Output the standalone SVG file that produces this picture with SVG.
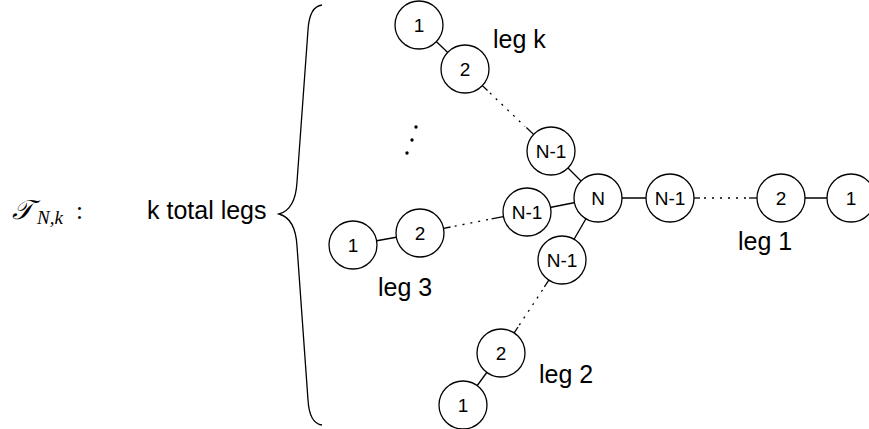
<svg xmlns="http://www.w3.org/2000/svg" width="869" height="429" viewBox="0 0 869 429">
<style>
.n circle{fill:#fff;stroke:#000;stroke-width:1.3}
.n text{font-family:"Liberation Sans",Arial,sans-serif;font-size:19px;text-anchor:middle;fill:#000}
.lbl{font-family:"Liberation Sans",Arial,sans-serif;font-size:25px;fill:#000}
.s{stroke:#000;stroke-width:1.3;fill:none}
.d{stroke:#000;stroke-width:1.3;fill:none;stroke-dasharray:2 6}
</style>
<rect width="869" height="429" fill="#fff"/>
<g id="title">
<text x="12" y="219" font-family="'DejaVu Serif','Liberation Serif',serif" font-size="27" font-style="italic">𝒯</text>
<text x="37" y="224" font-family="'Liberation Serif',serif" font-size="19" font-style="italic">N,k</text>
<text x="76" y="219" font-family="'Liberation Serif',serif" font-size="25">:</text>
</g>
<text class="lbl" x="147" y="219">k total legs</text>
<path id="brace" class="s" d="M322,5 C313,6 309,14 308,30 L297,182 C296,200 290,211 279,214 C290,217 296,228 297,246 L308,400 C309,416 313,424 322,425"/>
<g id="vdots" fill="#000">
<circle cx="416" cy="127" r="1.7"/>
<circle cx="412" cy="140" r="1.7"/>
<circle cx="407" cy="153" r="1.7"/>
</g>
<g id="connectors">
<line class="s" x1="419" y1="25" x2="465" y2="69"/>
<line class="s" x1="551" y1="151" x2="598" y2="198"/>
<line class="s" x1="598" y1="198" x2="527" y2="212"/>
<line class="s" x1="598" y1="198" x2="562" y2="260"/>
<line class="s" x1="598" y1="198" x2="670" y2="198"/>
<line class="s" x1="420" y1="233" x2="353" y2="245"/>
<line class="s" x1="501" y1="353" x2="463" y2="405"/>
<line class="s" x1="781" y1="198" x2="851" y2="198"/>
<line class="s" x1="482.4" y1="85.6" x2="487.5" y2="90.5"/>
<line class="d" x1="490" y1="93" x2="525" y2="126.5"/>
<line class="s" x1="526.4" y1="127.5" x2="533.6" y2="134.4"/>
<line class="s" x1="503.4" y1="216.6" x2="491.6" y2="218.9"/>
<line class="d" x1="488" y1="219.6" x2="452" y2="226.7"/>
<line class="s" x1="450.5" y1="227" x2="443.6" y2="228.4"/>
<line class="s" x1="548.8" y1="280.1" x2="544.4" y2="286.8"/>
<line class="d" x1="542.5" y1="290" x2="519" y2="325.5"/>
<line class="s" x1="518" y1="327" x2="514.2" y2="332.9"/>
<line class="s" x1="694" y1="198" x2="700" y2="198"/>
<line class="d" x1="704" y1="198" x2="748" y2="198"/>
<line class="s" x1="749" y1="198" x2="757" y2="198"/>
</g>
<g id="nodeN" class="n"><circle cx="598" cy="198" r="24"/><text x="598" y="205">N</text></g>
<g id="k1" class="n"><circle cx="419" cy="25" r="24"/><text x="419" y="32">1</text></g>
<g id="k2" class="n"><circle cx="465" cy="69" r="24"/><text x="465" y="76">2</text></g>
<g id="kN1" class="n"><circle cx="551" cy="151" r="24"/><text x="551" y="158">N-1</text></g>
<g id="l3N1" class="n"><circle cx="527" cy="212" r="24"/><text x="527" y="219">N-1</text></g>
<g id="l32" class="n"><circle cx="420" cy="233" r="24"/><text x="420" y="240">2</text></g>
<g id="l31" class="n"><circle cx="353" cy="245" r="24"/><text x="353" y="252">1</text></g>
<g id="l2N1" class="n"><circle cx="562" cy="260" r="24"/><text x="562" y="267">N-1</text></g>
<g id="l22" class="n"><circle cx="501" cy="353" r="24"/><text x="501" y="360">2</text></g>
<g id="l21" class="n"><circle cx="463" cy="405" r="24"/><text x="463" y="412">1</text></g>
<g id="l1N1" class="n"><circle cx="670" cy="198" r="24"/><text x="670" y="205">N-1</text></g>
<g id="l12" class="n"><circle cx="781" cy="198" r="24"/><text x="781" y="205">2</text></g>
<g id="l11" class="n"><circle cx="851" cy="198" r="24"/><text x="851" y="205">1</text></g>
<text class="lbl" x="493" y="48">leg k</text>
<text class="lbl" x="378" y="296">leg 3</text>
<text class="lbl" x="738" y="250">leg 1</text>
<text class="lbl" x="539" y="383">leg 2</text>
</svg>
